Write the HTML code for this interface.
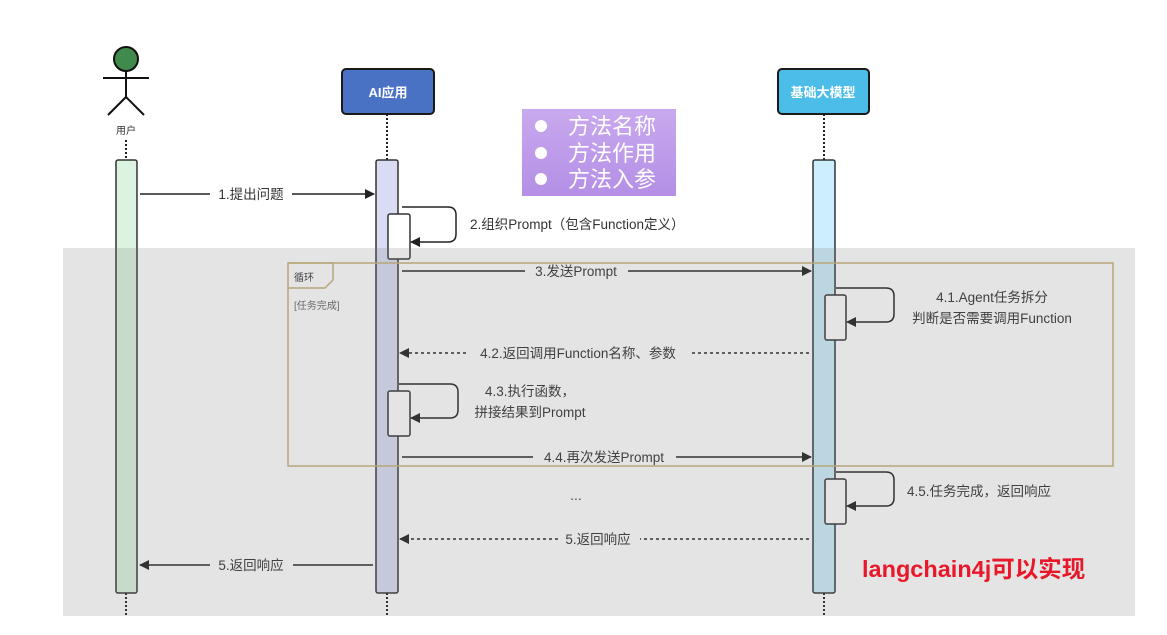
<!DOCTYPE html>
<html><head><meta charset="utf-8"><style>
html,body{margin:0;padding:0;background:#fff;}
svg{display:block;font-family:"Liberation Sans","Noto Sans CJK SC",sans-serif;}
</style></head><body>
<svg width="1167" height="635" viewBox="0 0 1167 635" xmlns="http://www.w3.org/2000/svg">
<defs>
<marker id="a" markerWidth="10" markerHeight="10" refX="9" refY="5" orient="auto" markerUnits="userSpaceOnUse"><path d="M0,0 L10,5 L0,10 z" fill="#222"/></marker>
<linearGradient id="pg" x1="0" y1="0" x2="0" y2="1"><stop offset="0" stop-color="#c9a9ee"/><stop offset="1" stop-color="#b48fe6"/></linearGradient>
</defs>
<circle cx="126" cy="59" r="12" fill="#3f8a4c" stroke="#111" stroke-width="2"/>
<line x1="126" y1="71" x2="126" y2="97" stroke="#111" stroke-width="2"/>
<line x1="103" y1="78" x2="149" y2="78" stroke="#111" stroke-width="2"/>
<line x1="126" y1="97" x2="108" y2="115" stroke="#111" stroke-width="2"/>
<line x1="126" y1="97" x2="144" y2="115" stroke="#111" stroke-width="2"/>
<text x="126" y="134" font-size="10" text-anchor="middle" fill="#333">用户</text>
<line x1="126" y1="140" x2="126" y2="160" stroke="#222" stroke-width="2" stroke-dasharray="2,2"/>
<line x1="387" y1="114" x2="387" y2="160" stroke="#222" stroke-width="2" stroke-dasharray="2,2"/>
<line x1="824" y1="114" x2="824" y2="160" stroke="#222" stroke-width="2" stroke-dasharray="2,2"/>
<line x1="126" y1="593" x2="126" y2="615" stroke="#222" stroke-width="2" stroke-dasharray="2,2"/>
<line x1="387" y1="593" x2="387" y2="615" stroke="#222" stroke-width="2" stroke-dasharray="2,2"/>
<line x1="824" y1="593" x2="824" y2="615" stroke="#222" stroke-width="2" stroke-dasharray="2,2"/>
<rect x="342" y="69" width="92" height="45" rx="4" fill="#4a72c4" stroke="#1a1a1a" stroke-width="2"/>
<text x="388" y="97" font-size="13" font-weight="bold" text-anchor="middle" fill="#fff">AI应用</text>
<rect x="778" y="69" width="91" height="45" rx="4" fill="#4bbde8" stroke="#1a1a1a" stroke-width="2"/>
<text x="823" y="97" font-size="13" font-weight="bold" text-anchor="middle" fill="#fff">基础大模型</text>
<rect x="522" y="109" width="154" height="87" fill="url(#pg)"/>
<g font-size="22" fill="#fff"><circle cx="541" cy="126" r="6" fill="#fff"/><circle cx="541" cy="153" r="6" fill="#fff"/><circle cx="541" cy="179" r="6" fill="#fff"/>
<text x="568" y="134">方法名称</text><text x="568" y="161">方法作用</text><text x="568" y="187">方法入参</text></g>
<rect x="116" y="160" width="21" height="433" rx="2" fill="#dcf3e2" stroke="#333" stroke-width="1.5"/>
<rect x="376" y="160" width="22" height="433" rx="2" fill="#dadcf4" stroke="#333" stroke-width="1.5"/>
<rect x="813" y="160" width="22" height="433" rx="2" fill="#cdeefc" stroke="#333" stroke-width="1.5"/>
<line x1="140" y1="194" x2="210" y2="194" stroke="#222" stroke-width="1.5"/>
<line x1="292" y1="194" x2="374" y2="194" stroke="#222" stroke-width="1.5" marker-end="url(#a)"/>
<text x="251" y="199" font-size="13.5" text-anchor="middle" fill="#333">1.提出问题</text>
<rect x="388" y="214" width="22" height="45" rx="2" fill="#fff" stroke="#333" stroke-width="1.5"/>
<path d="M402,207 H448 Q456,207 456,215 V234 Q456,242 448,242 H411" fill="none" stroke="#222" stroke-width="1.5" marker-end="url(#a)"/>
<text x="470" y="229" font-size="13.5" fill="#333">2.组织Prompt（包含Function定义）</text>
<rect x="288" y="263" width="825" height="203" fill="none" stroke="#c9b27a" stroke-width="1.5"/>
<path d="M288,263 H333 V280 L325,288 H288" fill="none" stroke="#c9b27a" stroke-width="1.5"/>
<text x="294" y="281" font-size="10" fill="#333">循环</text>
<text x="294" y="309" font-size="10" fill="#666">[任务完成]</text>
<line x1="402" y1="271" x2="525" y2="271" stroke="#222" stroke-width="1.5"/>
<line x1="628" y1="271" x2="811" y2="271" stroke="#222" stroke-width="1.5" marker-end="url(#a)"/>
<text x="576" y="276" font-size="13.5" text-anchor="middle" fill="#333">3.发送Prompt</text>
<rect x="825" y="295" width="21" height="45" rx="2" fill="#fff" stroke="#333" stroke-width="1.5"/>
<path d="M836,288 H886 Q894,288 894,296 V314 Q894,322 886,322 H847" fill="none" stroke="#222" stroke-width="1.5" marker-end="url(#a)"/>
<text x="992" y="302" font-size="13.5" text-anchor="middle" fill="#333">4.1.Agent任务拆分</text>
<text x="992" y="323" font-size="13.5" text-anchor="middle" fill="#333">判断是否需要调用Function</text>
<line x1="809" y1="353" x2="690" y2="353" stroke="#222" stroke-width="1.5" stroke-dasharray="3,3"/>
<line x1="466" y1="353" x2="400" y2="353" stroke="#222" stroke-width="1.5" stroke-dasharray="3,3" marker-end="url(#a)"/>
<text x="578" y="358" font-size="13.5" text-anchor="middle" fill="#333">4.2.返回调用Function名称、参数</text>
<rect x="388" y="391" width="22" height="45" rx="2" fill="#fff" stroke="#333" stroke-width="1.5"/>
<path d="M399,384 H450 Q458,384 458,392 V410 Q458,418 450,418 H411" fill="none" stroke="#222" stroke-width="1.5" marker-end="url(#a)"/>
<text x="530" y="396" font-size="13.5" text-anchor="middle" fill="#333">4.3.执行函数，</text>
<text x="530" y="417" font-size="13.5" text-anchor="middle" fill="#333">拼接结果到Prompt</text>
<line x1="402" y1="457" x2="533" y2="457" stroke="#222" stroke-width="1.5"/>
<line x1="676" y1="457" x2="811" y2="457" stroke="#222" stroke-width="1.5" marker-end="url(#a)"/>
<text x="604" y="462" font-size="13.5" text-anchor="middle" fill="#333">4.4.再次发送Prompt</text>
<text x="576" y="500" font-size="14" text-anchor="middle" fill="#333">...</text>
<rect x="825" y="479" width="21" height="45" rx="2" fill="#fff" stroke="#333" stroke-width="1.5"/>
<path d="M836,472 H886 Q894,472 894,480 V498 Q894,506 886,506 H847" fill="none" stroke="#222" stroke-width="1.5" marker-end="url(#a)"/>
<text x="907" y="496" font-size="13.5" fill="#333">4.5.任务完成，返回响应</text>
<line x1="809" y1="539" x2="640" y2="539" stroke="#222" stroke-width="1.5" stroke-dasharray="3,3"/>
<line x1="558" y1="539" x2="400" y2="539" stroke="#222" stroke-width="1.5" stroke-dasharray="3,3" marker-end="url(#a)"/>
<text x="598" y="544" font-size="13.5" text-anchor="middle" fill="#333">5.返回响应</text>
<line x1="373" y1="565" x2="293" y2="565" stroke="#222" stroke-width="1.5"/>
<line x1="210" y1="565" x2="140" y2="565" stroke="#222" stroke-width="1.5" marker-end="url(#a)"/>
<text x="251" y="570" font-size="13.5" text-anchor="middle" fill="#333">5.返回响应</text>
<rect x="63" y="248" width="1072" height="368" fill="rgba(120,120,120,0.2)"/>
<text x="862" y="577" font-size="23.5" font-weight="bold" fill="#e8182a">langchain4j可以实现</text>
</svg>
</body></html>
